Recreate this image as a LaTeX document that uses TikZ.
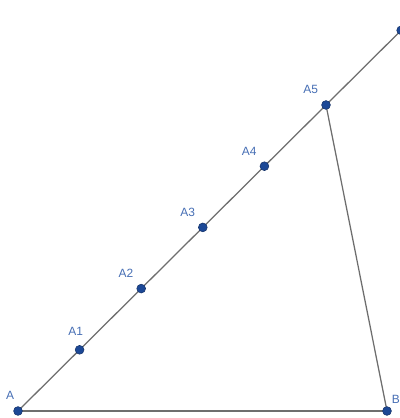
\documentclass[tikz,border=0pt]{standalone}
\usepackage{fontspec}
\setsansfont{Liberation Sans}
\usepackage{xcolor}
\definecolor{ptcolor}{RGB}{28, 72, 150}
\definecolor{lblcolor}{RGB}{70, 110, 180}
\definecolor{segcolor}{RGB}{110, 110, 110}
\usetikzlibrary{positioning, calc}

\tikzset{
    pt/.style={circle, draw=ptcolor!70!black, fill=ptcolor, line width=0.4pt, inner sep=0pt, minimum size=0.22cm},
    lbl/.style={text=lblcolor, font=\sffamily\fontsize{8.5}{10}\selectfont, inner sep=1pt},
    seg/.style={draw=segcolor, line width=0.9pt}
}

\begin{document}
\begin{tikzpicture}

    \useasboundingbox (0,0) rectangle (10,10.45);
    \clip (0,0) rectangle (10,10.45);

    % Vertices and the points on the ray
    \coordinate (A) at (0.45,0.175);
    \coordinate (B) at (9.675,0.175);
    \coordinate (C) at ($(A)+6.22*(1.54,1.53)$);
    \foreach \i in {1,...,5}
        \coordinate (A\i) at ($(A)+\i*(1.54,1.53)$);

    % Segments
    \draw[seg] (A) -- (C);
    \draw[seg] (A) -- (B);
    \draw[seg] (A5) -- (B);

    % Points
    \node[pt] (pA) at (A) {};
    \node[pt] (pB) at (B) {};
    \node[pt] (pC) at (C) {};
    \foreach \i in {1,...,5}
        \node[pt] (pA\i) at (A\i) {};

    % Labels
    \node[lbl, above=0.12cm of pA, xshift=-0.2cm] (lA) {A};
    \node[lbl, right=-0.04cm of pB, yshift=0.28cm] (lB) {B};
    \node[lbl, above=0.2cm of pA1, xshift=-0.1cm] (lA1) {A1};
    \foreach \i in {2,...,5}
        \node[lbl, above=0.12cm of pA\i, xshift=-0.38cm] (lA\i) {A\i};

\end{tikzpicture}
\end{document}
